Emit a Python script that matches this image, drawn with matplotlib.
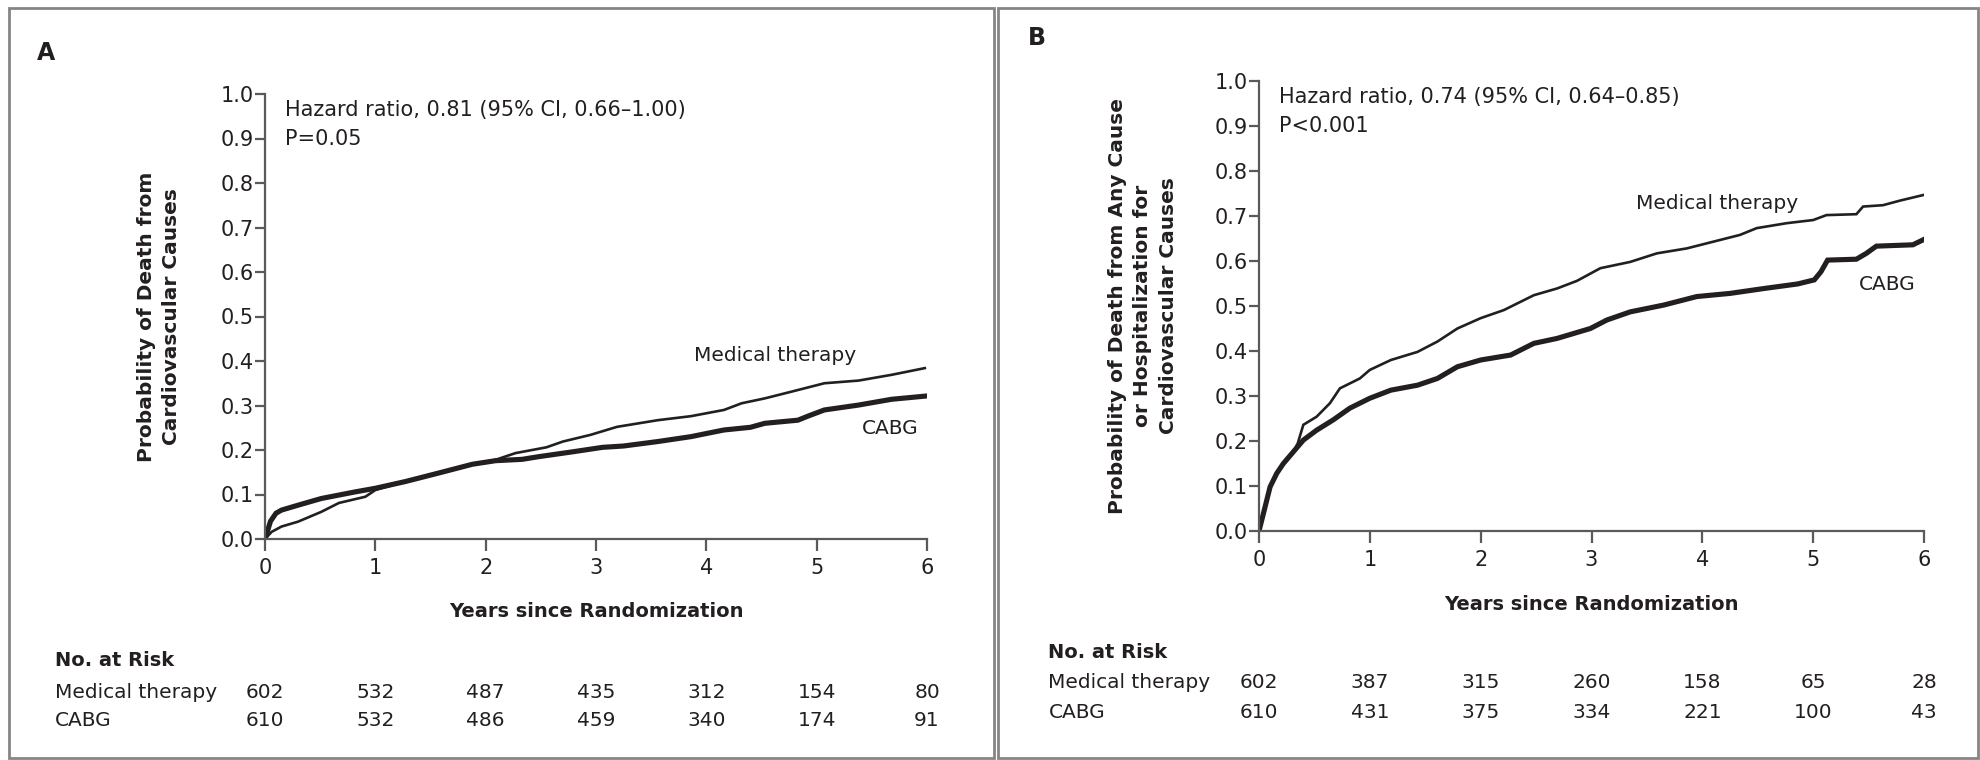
"""
Curvas de Kaplan-Meier (painel A e B) com tabela de pacientes em risco.
Saída: out.png (1981x760)
"""

import matplotlib.pyplot as plt
from matplotlib.patches import Rectangle

W, H = 1981, 760
TEXT = "#231f20"
SPINE = "#5a5a5a"
FRAME = "#858585"

# Painel A — morte por causas cardiovasculares
a_med_t = [0, 0.06, 0.15, 0.30, 0.51, 0.67, 0.91, 1.0, 1.27, 1.57, 1.88, 2.09, 2.27, 2.55,
           2.70, 2.95, 3.19, 3.56, 3.86, 4.16, 4.32, 4.53, 4.77, 5.07, 5.38, 5.68, 5.98]
a_med_p = [0, 0.016, 0.028, 0.039, 0.061, 0.081, 0.095, 0.110, 0.129, 0.148, 0.168, 0.178,
           0.193, 0.206, 0.219, 0.234, 0.252, 0.267, 0.276, 0.290, 0.305, 0.316, 0.331,
           0.350, 0.356, 0.369, 0.384]
a_cabg_t = [0, 0.05, 0.10, 0.15, 0.30, 0.51, 0.82, 1.0, 1.27, 1.57, 1.88, 2.09, 2.33, 2.48,
            2.79, 3.06, 3.25, 3.56, 3.86, 4.16, 4.40, 4.53, 4.83, 4.92, 5.07, 5.38, 5.68, 5.98]
a_cabg_p = [0, 0.040, 0.058, 0.065, 0.076, 0.091, 0.106, 0.114, 0.129, 0.148, 0.168, 0.176,
            0.179, 0.185, 0.196, 0.206, 0.209, 0.219, 0.230, 0.245, 0.251, 0.260, 0.267,
            0.276, 0.290, 0.301, 0.314, 0.321]
a_risk_med = [602, 532, 487, 435, 312, 154, 80]
a_risk_cabg = [610, 532, 486, 459, 340, 174, 91]

# Painel B — morte por qualquer causa ou hospitalização cardiovascular
b_med_t = [0, 0.04, 0.10, 0.16, 0.22, 0.31, 0.35, 0.40, 0.52, 0.64, 0.73, 0.91, 1.0, 1.19,
           1.43, 1.61, 1.79, 2.0, 2.21, 2.48, 2.69, 2.87, 3.08, 3.35, 3.59, 3.86, 4.10,
           4.34, 4.49, 4.76, 5.00, 5.12, 5.39, 5.45, 5.63, 5.78, 6.0]
b_med_p = [0, 0.039, 0.098, 0.128, 0.150, 0.176, 0.195, 0.236, 0.254, 0.284, 0.317, 0.339,
           0.358, 0.380, 0.398, 0.421, 0.450, 0.473, 0.491, 0.524, 0.539, 0.556, 0.584,
           0.598, 0.617, 0.628, 0.643, 0.658, 0.673, 0.684, 0.691, 0.702, 0.704, 0.721,
           0.724, 0.734, 0.747]
b_cabg_t = [0, 0.04, 0.10, 0.16, 0.22, 0.31, 0.40, 0.52, 0.67, 0.82, 1.0, 1.19, 1.43, 1.61,
            1.79, 2.0, 2.27, 2.48, 2.69, 2.99, 3.14, 3.35, 3.65, 3.95, 4.25, 4.56, 4.86,
            5.01, 5.07, 5.13, 5.39, 5.48, 5.57, 5.90, 6.0]
b_cabg_p = [0, 0.039, 0.098, 0.128, 0.150, 0.176, 0.202, 0.224, 0.247, 0.273, 0.295, 0.313,
            0.324, 0.339, 0.365, 0.380, 0.391, 0.417, 0.428, 0.450, 0.469, 0.487, 0.502,
            0.521, 0.528, 0.539, 0.549, 0.558, 0.576, 0.602, 0.604, 0.617, 0.633, 0.636,
            0.648]
b_risk_med = [602, 387, 315, 260, 158, 65, 28]
b_risk_cabg = [610, 431, 375, 334, 221, 100, 43]

years = [0, 1, 2, 3, 4, 5, 6]
yticks = [0.0, 0.1, 0.2, 0.3, 0.4, 0.5, 0.6, 0.7, 0.8, 0.9, 1.0]

plt.rcParams.update({
    "font.family": "DejaVu Sans",
    "text.color": TEXT,
    "xtick.color": SPINE,
    "ytick.color": SPINE,
    "xtick.labelcolor": TEXT,
    "ytick.labelcolor": TEXT,
})


def px(x, y):
    """pixel (origem no topo) -> fração da figura"""
    return x / W, 1 - y / H


def panel(fig, box, letter, letter_xy, frame, ylabel, ylabel_x, ylabel_ls,
          t_med, p_med, t_cabg, p_cabg, hr, pval, lab_med, lab_cabg,
          risk_med, risk_cabg, rows_y):
    l, t, r, b = box
    ax = fig.add_axes([l / W, 1 - b / H, (r - l) / W, (b - t) / H])
    ax.plot(t_med, p_med, color=TEXT, lw=1.9, solid_joinstyle="miter")
    ax.plot(t_cabg, p_cabg, color=TEXT, lw=3.7, solid_joinstyle="miter")
    ax.set_xlim(0, 6)
    ax.set_ylim(0, 1)
    ax.set_xticks(years)
    ax.set_yticks(yticks)
    ax.set_yticklabels([f"{v:.1f}" for v in yticks])
    for s in ("top", "right"):
        ax.spines[s].set_visible(False)
    for s in ("left", "bottom"):
        ax.spines[s].set_color(SPINE)
        ax.spines[s].set_linewidth(1.6)
    ax.tick_params(axis="y", direction="out", length=7, width=1.6, pad=1, labelsize=15)
    ax.tick_params(axis="x", direction="out", length=8.5, width=1.6, pad=5, labelsize=15)
    ax.set_facecolor("none")

    ax.text(0.03, 0.965, hr, transform=ax.transAxes, fontsize=15, va="center", ha="left")
    ax.text(0.03, 0.899, pval, transform=ax.transAxes, fontsize=15, va="center", ha="left")
    ax.text(*lab_med, "Medical therapy", fontsize=14.5, ha="center", va="center")
    ax.text(*lab_cabg, "CABG", fontsize=14.5, ha="center", va="center")

    ax.text(0.5, -0.163, "Years since Randomization", transform=ax.transAxes,
            fontsize=14, fontweight="bold", ha="center", va="center")

    fx, fy = px(ylabel_x, (t + b) / 2)
    fig.text(fx, fy, ylabel, rotation=90, fontsize=14.5, fontweight="bold",
             ha="center", va="center", linespacing=ylabel_ls, multialignment="center")

    # tabela de pacientes em risco
    trans = ax.get_xaxis_transform()
    row_x = -1.9
    ry = [(b - y) / (b - t) for y in rows_y]
    ax.text(row_x, ry[0], "No. at Risk", transform=trans, fontsize=14, fontweight="bold",
            ha="left", va="center")
    ax.text(row_x, ry[1], "Medical therapy", transform=trans, fontsize=14.5,
            ha="left", va="center")
    ax.text(row_x, ry[2], "CABG", transform=trans, fontsize=14.5, ha="left", va="center")
    for yr, m, c in zip(years, risk_med, risk_cabg):
        ax.text(yr, ry[1], str(m), transform=trans, fontsize=14.5, ha="center", va="center")
        ax.text(yr, ry[2], str(c), transform=trans, fontsize=14.5, ha="center", va="center")

    lx, ly = px(*letter_xy)
    fig.text(lx, ly, letter, fontsize=17, fontweight="bold", ha="left", va="center")

    fl, ft, fr, fb = frame
    x0, y0 = px(fl, fb)
    x1, y1 = px(fr, ft)
    fig.patches.append(Rectangle((x0, y0), x1 - x0, y1 - y0, transform=fig.transFigure,
                                 fill=False, edgecolor=FRAME, lw=2.0))
    return ax


fig = plt.figure(figsize=(W / 100, H / 100), dpi=100)
fig.patch.set_facecolor("white")

panel(fig, (265, 94, 927, 539), "A", (37, 53), (9, 8, 994, 758),
      "Probability of Death from\nCardiovascular Causes", 159, 1.38,
      a_med_t, a_med_p, a_cabg_t, a_cabg_p,
      "Hazard ratio, 0.81 (95% CI, 0.66\u20131.00)", "P=0.05",
      (4.62, 0.413), (5.67, 0.249), a_risk_med, a_risk_cabg, (660, 692, 720))

panel(fig, (1259, 81, 1924, 531), "B", (1028, 38), (998, 8, 1978, 758),
      "Probability of Death from Any Cause\nor Hospitalization for\nCardiovascular Causes",
      1143, 1.45,
      b_med_t, b_med_p, b_cabg_t, b_cabg_p,
      "Hazard ratio, 0.74 (95% CI, 0.64\u20130.85)", "P<0.001",
      (4.13, 0.728), (5.67, 0.547), b_risk_med, b_risk_cabg, (652, 683, 712))

fig.savefig("out.png", dpi=100, facecolor="white")
